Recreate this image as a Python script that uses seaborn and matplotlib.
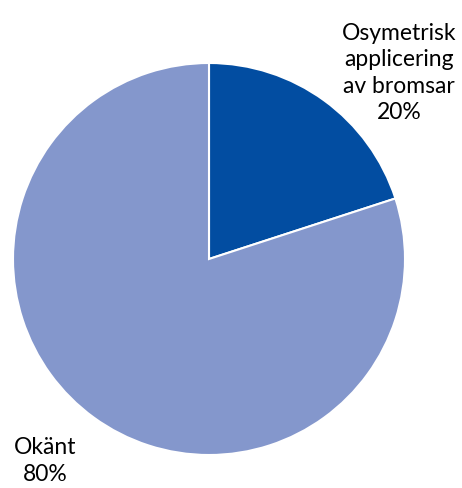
import matplotlib
matplotlib.use('Agg')
import matplotlib.pyplot as plt
import seaborn as sns

# data
kategorier = ['Osymetrisk\napplicering\nav bromsar', 'Okänt']
andelar = [20, 80]
farger = ['#024DA1', '#8497CC']

sns.set_theme(style='white')
plt.rcParams['font.family'] = ['Lato', 'DejaVu Sans']

fig = plt.figure(figsize=(4.62, 4.88), dpi=100)
ax = fig.add_axes([13 / 462, 33 / 488, 392 / 462, 392 / 488])

ax.pie(andelar, colors=farger, startangle=90, counterclock=False,
       wedgeprops=dict(edgecolor='white', linewidth=1.5))
ax.set_xlim(-1, 1)
ax.set_ylim(-1, 1)
ax.set_aspect('equal')
ax.axis('off')

# etiketter
pos = [(0.97, 0.95), (-0.834, -1.03)]
for namn, v, (x, y) in zip(kategorier, andelar, pos):
    ax.text(x, y, f'{namn}\n{v}%', ha='center', va='center', fontsize=16.5,
            color='black', linespacing=1.32, clip_on=False)

fig.savefig('out.png', dpi=100)
